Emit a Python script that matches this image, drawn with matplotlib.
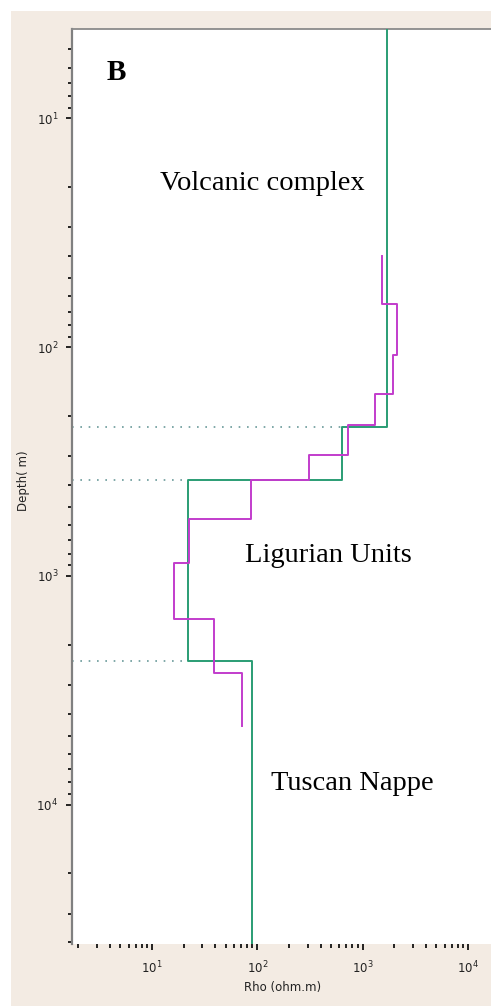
import matplotlib
matplotlib.use('Agg')
import matplotlib.pyplot as plt
from matplotlib.patches import Rectangle
import numpy as np

# layered model (green): resistivity per layer and layer boundaries (m)
model_rho = [1700, 633, 21.8, 89.7]
model_depth = [1, 224, 380, 2360, 100000]

# smooth inversion (magenta)
inv_rho = [1540, 2140, 1930, 1310, 730, 310, 87, 22.6, 16.3, 39, 71]
inv_depth = [40, 65, 108, 160, 220, 295, 383, 564, 883, 1540, 2660, 4520]

# interfaces marked by dotted lines
interfaces = [224, 380, 2360]

units = ['Volcanic complex', 'Ligurian Units', 'Tuscan Nappe']

W, H = 491, 1008
fig = plt.figure(figsize=(W / 100, H / 100), dpi=100, facecolor='white')

# beige panel behind the axes
fig.patches.append(Rectangle((11 / W, 0.002), 1, 1 - 11 / H - 0.002, transform=fig.transFigure,
                             facecolor='#f3ebe3', edgecolor='none', zorder=-10))

left, top, bottom = 72, 29, 944
ax = fig.add_axes([left / W, 1 - bottom / H, 1 - left / W, (bottom - top) / H])
ax.set_facecolor('white')
ax.set_xscale('log')
ax.set_yscale('log')
ax.set_xlim(1.74, 16560)
ax.set_ylim(40700, 4.07)


def steps(rho, depth):
    return np.repeat(rho, 2), np.repeat(depth, 2)[1:-1]


x, y = steps(model_rho, model_depth)
ax.plot(x, y, color='#2a9d74', lw=1.4, zorder=3)
x, y = steps(inv_rho, inv_depth)
ax.plot(x, y, color='#c23ccc', lw=1.4, zorder=4)

for i, d in enumerate(interfaces):
    xe = min(model_rho[i], model_rho[i + 1])
    ax.plot([1.74, xe], [d, d], color='#6a9a9a', lw=1.2, linestyle=(0, (1, 4)), zorder=2)

for s in ['right', 'bottom']:
    ax.spines[s].set_visible(False)
ax.spines['left'].set_color('#808080')
ax.spines['left'].set_linewidth(1.6)
ax.spines['top'].set_color('#8a8a8a')
ax.spines['top'].set_linewidth(1.3)

ax.tick_params(axis='both', which='both', direction='out', colors='black', labelsize=8.5, top=False, right=False)
ax.tick_params(axis='both', which='major', length=4, width=1.2)
ax.tick_params(axis='both', which='minor', length=3, width=1.2)
ax.tick_params(axis='y', pad=6)
ax.tick_params(axis='x', pad=7)
for lab in ax.get_xticklabels() + ax.get_yticklabels():
    lab.set_color('#222222')

fig.text(24 / W, 1 - 481 / H, 'Depth( m)', rotation=90, ha='center', va='center', fontsize=8.5, color='#222222')
fig.text(283 / W, 1 - 987 / H, 'Rho (ohm.m)', ha='center', va='center', fontsize=8.5, color='#222222')

serif = 'Liberation Serif'
fig.text(116 / W, 1 - 72 / H, 'B', ha='center', va='center', fontsize=21, fontweight='bold', family=serif)
fig.text(262 / W, 1 - 183 / H, units[0], ha='center', va='center', fontsize=20.5, family=serif)
fig.text(328 / W, 1 - 556 / H, units[1], ha='center', va='center', fontsize=20.5, family=serif)
fig.text(352 / W, 1 - 783 / H, units[2], ha='center', va='center', fontsize=20.5, family=serif)

fig.savefig('out.png', dpi=100)
